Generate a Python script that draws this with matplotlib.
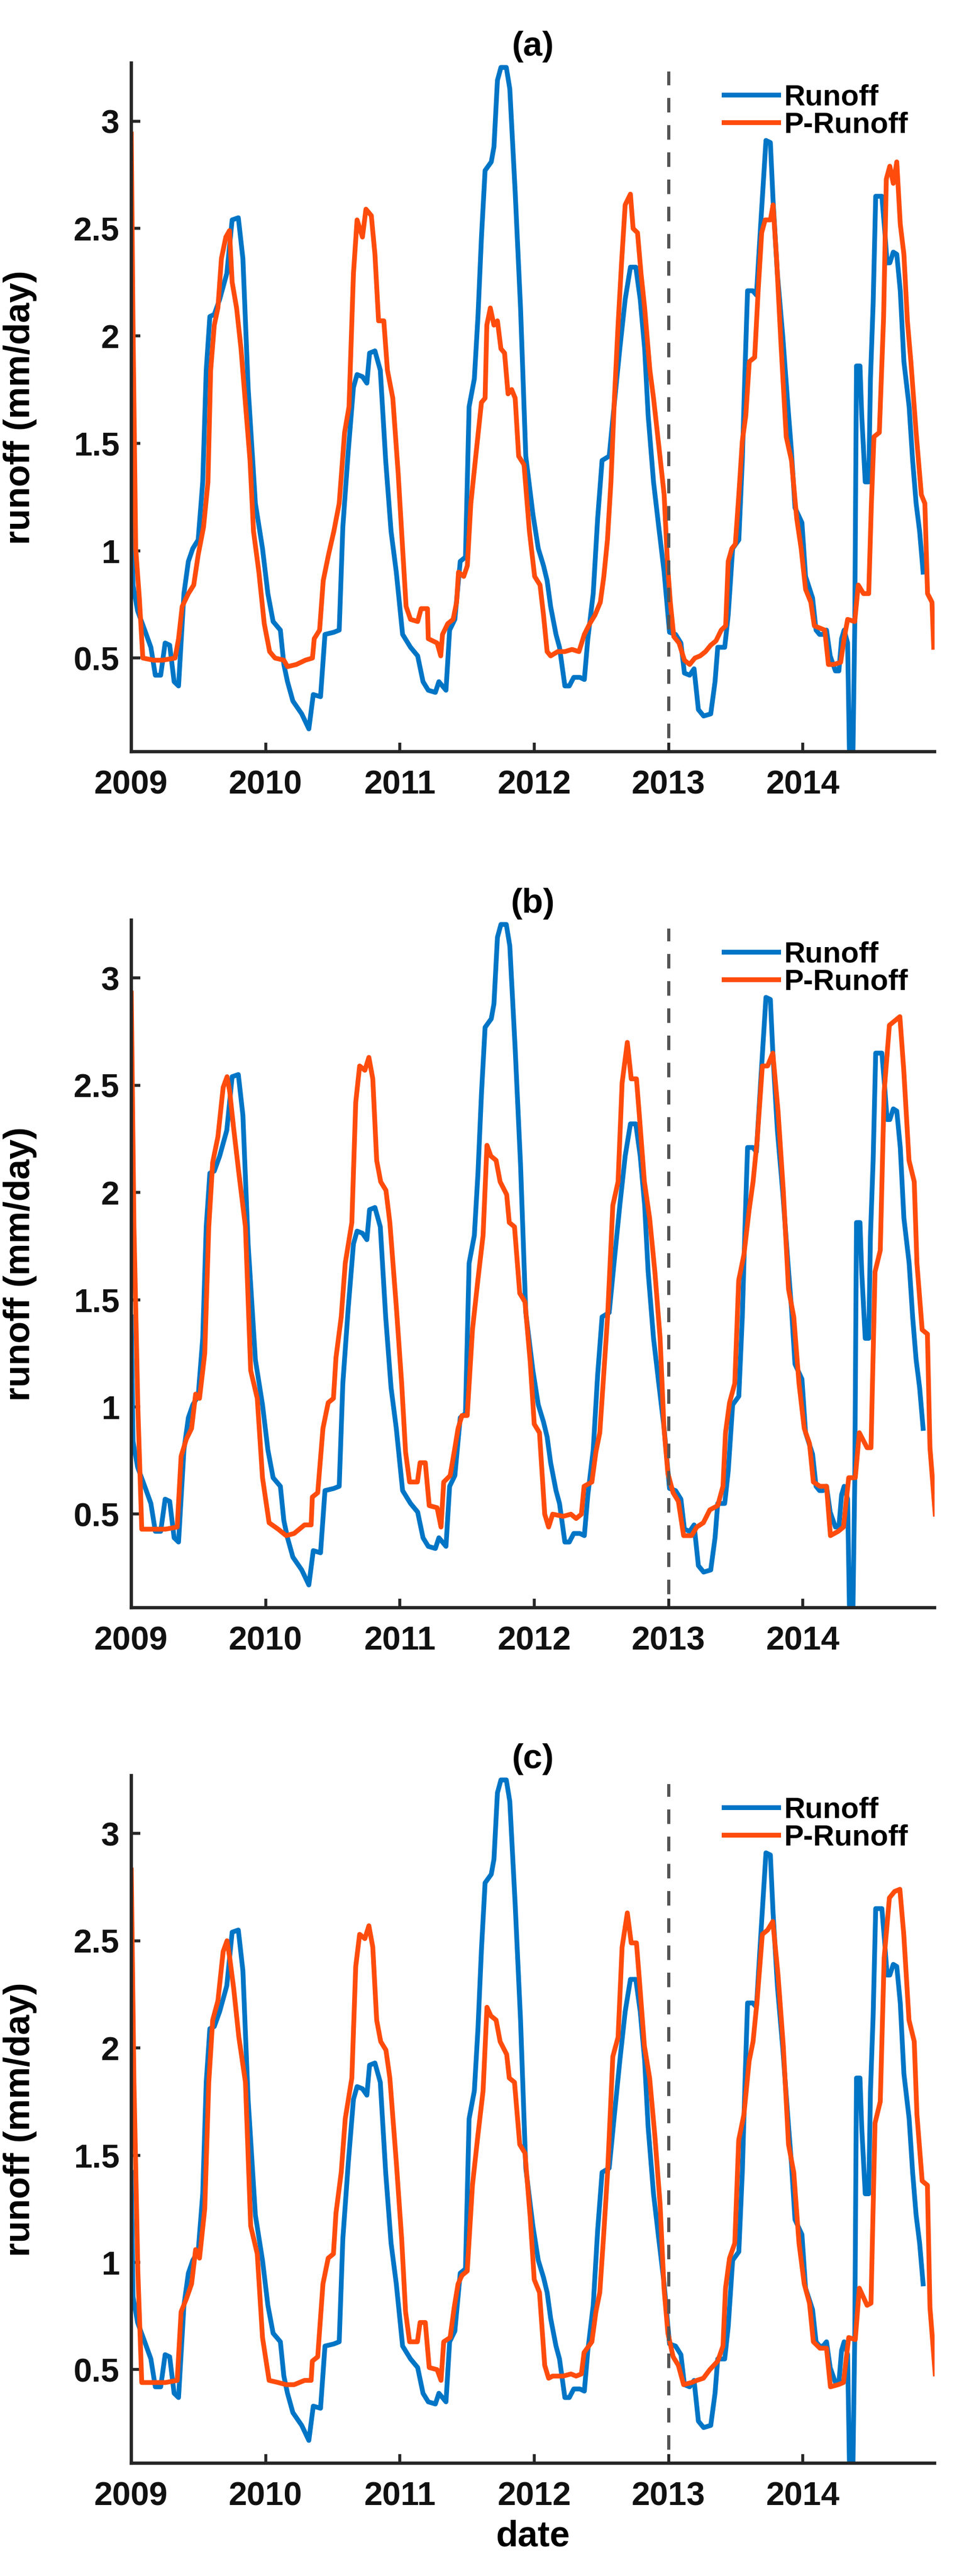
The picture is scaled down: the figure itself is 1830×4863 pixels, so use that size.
import numpy as np
import matplotlib
matplotlib.use("Agg")
import matplotlib.pyplot as plt

plt.rcParams['font.family'] = ['Liberation Sans', 'DejaVu Sans']
plt.rcParams['font.weight'] = 'bold'

# observed runoff (same curve in all three panels), decimal year / mm per day
runoff_t = [2009.000, 2009.013, 2009.047, 2009.100, 2009.146, 2009.179, 2009.219, 2009.252, 2009.286,
            2009.319, 2009.352, 2009.392, 2009.425, 2009.458, 2009.498, 2009.532, 2009.558, 2009.585,
            2009.618, 2009.658, 2009.711, 2009.751, 2009.797, 2009.831, 2009.870, 2009.924, 2009.977,
            2010.017, 2010.056, 2010.110, 2010.136, 2010.163, 2010.203, 2010.269, 2010.322, 2010.355,
            2010.409, 2010.442, 2010.508, 2010.548, 2010.575, 2010.615, 2010.654, 2010.681, 2010.721,
            2010.754, 2010.774, 2010.814, 2010.854, 2010.894, 2010.934, 2010.973, 2011.020, 2011.079,
            2011.132, 2011.172, 2011.211, 2011.264, 2011.290, 2011.343, 2011.370, 2011.409, 2011.449,
            2011.488, 2011.515, 2011.554, 2011.581, 2011.607, 2011.634, 2011.680, 2011.700, 2011.726,
            2011.752, 2011.792, 2011.818, 2011.858, 2011.898, 2011.937, 2011.990, 2012.030, 2012.069,
            2012.096, 2012.122, 2012.162, 2012.188, 2012.228, 2012.261, 2012.294, 2012.340, 2012.373,
            2012.399, 2012.439, 2012.472, 2012.505, 2012.558, 2012.597, 2012.637, 2012.677, 2012.716,
            2012.756, 2012.789, 2012.822, 2012.848, 2012.888, 2012.927, 2012.967, 2013.007, 2013.052,
            2013.092, 2013.118, 2013.157, 2013.190, 2013.222, 2013.261, 2013.314, 2013.346, 2013.366,
            2013.418, 2013.444, 2013.477, 2013.523, 2013.549, 2013.569, 2013.588, 2013.627, 2013.654,
            2013.686, 2013.725, 2013.758, 2013.778, 2013.810, 2013.850, 2013.889, 2013.915, 2013.941,
            2013.993, 2014.020, 2014.072, 2014.098, 2014.124, 2014.150, 2014.176, 2014.203, 2014.242,
            2014.268, 2014.288, 2014.307, 2014.333, 2014.346, 2014.373, 2014.386, 2014.399, 2014.425,
            2014.438, 2014.464, 2014.490, 2014.503, 2014.523, 2014.542, 2014.588, 2014.608, 2014.627,
            2014.647, 2014.673, 2014.699, 2014.725, 2014.752, 2014.791, 2014.817, 2014.843, 2014.869,
            2014.895]
runoff_v = [1.42, 0.84, 0.72, 0.63, 0.55, 0.42, 0.42, 0.57, 0.56,
            0.39, 0.37, 0.80, 0.95, 1.01, 1.05, 1.32, 1.84, 2.09,
            2.10, 2.17, 2.29, 2.54, 2.55, 2.36, 1.76, 1.22, 1.01,
            0.80, 0.67, 0.63, 0.47, 0.39, 0.30, 0.24, 0.17, 0.33,
            0.32, 0.61, 0.62, 0.63, 1.11, 1.46, 1.76, 1.82, 1.81,
            1.78, 1.92, 1.93, 1.84, 1.42, 1.09, 0.90, 0.61, 0.55,
            0.51, 0.39, 0.35, 0.34, 0.39, 0.35, 0.63, 0.68, 0.95,
            0.97, 1.67, 1.80, 2.09, 2.46, 2.77, 2.81, 2.88, 3.19,
            3.25, 3.25, 3.15, 2.67, 2.13, 1.44, 1.17, 1.01, 0.93,
            0.86, 0.74, 0.61, 0.55, 0.37, 0.37, 0.41, 0.41, 0.40,
            0.59, 0.80, 1.15, 1.42, 1.44, 1.69, 1.94, 2.17, 2.32,
            2.32, 2.17, 1.94, 1.63, 1.32, 1.11, 0.90, 0.62, 0.61,
            0.57, 0.43, 0.42, 0.45, 0.26, 0.23, 0.24, 0.39, 0.55,
            0.55, 0.70, 1.01, 1.05, 1.42, 1.84, 2.21, 2.21, 2.19,
            2.52, 2.91, 2.90, 2.63, 2.29, 2.00, 1.67, 1.46, 1.20,
            1.13, 0.88, 0.78, 0.63, 0.61, 0.61, 0.63, 0.51, 0.44,
            0.44, 0.59, 0.63, 0.57, 0.075, 0.07, 0.65, 1.86, 1.86,
            1.63, 1.32, 1.32, 1.80, 2.15, 2.65, 2.65, 2.50, 2.34,
            2.34, 2.39, 2.38, 2.21, 1.88, 1.67, 1.42, 1.22, 1.09,
            0.90]

# P-Runoff, panel (a)
pa_t = [2009.000, 2009.013, 2009.033, 2009.060, 2009.086, 2009.166, 2009.233, 2009.326, 2009.352,
        2009.379, 2009.425, 2009.465, 2009.498, 2009.538, 2009.571, 2009.591, 2009.618, 2009.645,
        2009.671, 2009.704, 2009.731, 2009.751, 2009.784, 2009.817, 2009.844, 2009.884, 2009.910,
        2009.950, 2009.990, 2010.030, 2010.070, 2010.136, 2010.163, 2010.229, 2010.296, 2010.349,
        2010.362, 2010.402, 2010.429, 2010.468, 2010.508, 2010.548, 2010.588, 2010.621, 2010.654,
        2010.681, 2010.721, 2010.747, 2010.787, 2010.814, 2010.841, 2010.880, 2010.907, 2010.947,
        2010.987, 2011.020, 2011.046, 2011.079, 2011.132, 2011.158, 2011.205, 2011.211, 2011.277,
        2011.304, 2011.317, 2011.356, 2011.396, 2011.422, 2011.436, 2011.475, 2011.502, 2011.528,
        2011.568, 2011.607, 2011.634, 2011.647, 2011.673, 2011.700, 2011.726, 2011.752, 2011.779,
        2011.805, 2011.832, 2011.858, 2011.884, 2011.924, 2011.964, 2012.003, 2012.043, 2012.069,
        2012.096, 2012.122, 2012.175, 2012.228, 2012.281, 2012.333, 2012.373, 2012.413, 2012.452,
        2012.492, 2012.518, 2012.545, 2012.571, 2012.597, 2012.624, 2012.650, 2012.677, 2012.716,
        2012.736, 2012.769, 2012.795, 2012.822, 2012.861, 2012.888, 2012.927, 2012.967, 2012.993,
        2013.013, 2013.039, 2013.078, 2013.118, 2013.157, 2013.196, 2013.235, 2013.275, 2013.314,
        2013.353, 2013.392, 2013.425, 2013.444, 2013.471, 2013.497, 2013.523, 2013.549, 2013.575,
        2013.601, 2013.641, 2013.667, 2013.693, 2013.719, 2013.758, 2013.778, 2013.804, 2013.837,
        2013.876, 2013.915, 2013.954, 2013.987, 2014.020, 2014.059, 2014.085, 2014.124, 2014.163,
        2014.190, 2014.229, 2014.281, 2014.307, 2014.333, 2014.386, 2014.412, 2014.451, 2014.490,
        2014.510, 2014.529, 2014.569, 2014.601, 2014.621, 2014.647, 2014.673, 2014.699, 2014.725,
        2014.752, 2014.778, 2014.804, 2014.843, 2014.882, 2014.908, 2014.928, 2014.961, 2014.974]
pa_v = [2.94, 2.05, 1.01, 0.78, 0.50, 0.49, 0.49, 0.50, 0.59,
        0.74, 0.80, 0.84, 0.98, 1.11, 1.32, 1.84, 2.05, 2.13,
        2.36, 2.46, 2.49, 2.25, 2.13, 1.94, 1.73, 1.42, 1.09,
        0.90, 0.66, 0.53, 0.50, 0.49, 0.46, 0.47, 0.49, 0.50,
        0.59, 0.63, 0.86, 0.98, 1.09, 1.22, 1.55, 1.67, 2.29,
        2.54, 2.46, 2.59, 2.56, 2.38, 2.07, 2.07, 1.84, 1.71,
        1.36, 1.01, 0.74, 0.68, 0.67, 0.73, 0.73, 0.59, 0.57,
        0.51, 0.61, 0.66, 0.68, 0.76, 0.90, 0.88, 0.93, 1.22,
        1.46, 1.69, 1.71, 2.05, 2.13, 2.05, 2.07, 1.94, 1.92,
        1.73, 1.75, 1.71, 1.44, 1.40, 1.09, 0.88, 0.84, 0.70,
        0.53, 0.51, 0.53, 0.53, 0.54, 0.53, 0.61, 0.66, 0.70,
        0.76, 0.88, 1.05, 1.32, 1.71, 2.05, 2.34, 2.61, 2.66,
        2.50, 2.48, 2.29, 2.13, 1.84, 1.71, 1.49, 1.26, 0.93,
        0.76, 0.60, 0.57, 0.49, 0.47, 0.50, 0.51, 0.53, 0.56,
        0.58, 0.63, 0.65, 0.95, 1.01, 1.03, 1.26, 1.51, 1.63,
        1.88, 1.90, 2.21, 2.48, 2.54, 2.54, 2.61, 2.36, 1.96,
        1.53, 1.42, 1.15, 1.01, 0.82, 0.76, 0.65, 0.64, 0.63,
        0.47, 0.47, 0.48, 0.59, 0.68, 0.67, 0.84, 0.80, 0.80,
        1.22, 1.53, 1.55, 2.09, 2.73, 2.79, 2.71, 2.81, 2.52,
        2.38, 2.07, 1.88, 1.55, 1.26, 1.22, 0.80, 0.76, 0.55]

# P-Runoff, panels (b) and (c) share the time steps
pbc_t = [2009.000, 2009.020, 2009.049, 2009.078, 2009.156, 2009.254, 2009.342, 2009.371, 2009.410,
         2009.449, 2009.479, 2009.508, 2009.547, 2009.577, 2009.606, 2009.645, 2009.684, 2009.713,
         2009.733, 2009.762, 2009.801, 2009.850, 2009.889, 2009.938, 2009.977, 2010.026, 2010.094,
         2010.153, 2010.212, 2010.290, 2010.339, 2010.348, 2010.388, 2010.427, 2010.466, 2010.505,
         2010.524, 2010.563, 2010.593, 2010.642, 2010.671, 2010.700, 2010.739, 2010.769, 2010.798,
         2010.827, 2010.857, 2010.896, 2010.925, 2010.974, 2011.013, 2011.042, 2011.072, 2011.130,
         2011.150, 2011.189, 2011.218, 2011.277, 2011.306, 2011.326, 2011.374, 2011.404, 2011.433,
         2011.462, 2011.501, 2011.540, 2011.580, 2011.619, 2011.648, 2011.677, 2011.716, 2011.746,
         2011.795, 2011.814, 2011.853, 2011.892, 2011.931, 2011.970, 2012.000, 2012.039, 2012.078,
         2012.107, 2012.137, 2012.215, 2012.273, 2012.312, 2012.351, 2012.371, 2012.429, 2012.459,
         2012.488, 2012.517, 2012.546, 2012.585, 2012.624, 2012.654, 2012.693, 2012.722, 2012.761,
         2012.780, 2012.820, 2012.859, 2012.898, 2012.937, 2012.966, 2012.995, 2013.034, 2013.073,
         2013.112, 2013.171, 2013.210, 2013.259, 2013.307, 2013.366, 2013.405, 2013.424, 2013.454,
         2013.493, 2013.522, 2013.561, 2013.600, 2013.629, 2013.659, 2013.698, 2013.737, 2013.776,
         2013.815, 2013.854, 2013.893, 2013.932, 2013.971, 2014.010, 2014.049, 2014.078, 2014.127,
         2014.176, 2014.205, 2014.263, 2014.302, 2014.341, 2014.390, 2014.420, 2014.478, 2014.507,
         2014.537, 2014.576, 2014.605, 2014.644, 2014.683, 2014.722, 2014.751, 2014.790, 2014.829,
         2014.849, 2014.888, 2014.927, 2014.946, 2014.985]
pb_v = [2.93, 1.84, 1.00, 0.43, 0.43, 0.43, 0.44, 0.77, 0.85,
        0.90, 1.06, 1.04, 1.25, 1.84, 2.14, 2.26, 2.49, 2.54,
        2.47, 2.30, 2.09, 1.84, 1.17, 1.04, 0.67, 0.46, 0.43,
        0.40, 0.41, 0.45, 0.45, 0.58, 0.60, 0.90, 1.02, 1.04,
        1.23, 1.42, 1.67, 1.86, 2.42, 2.59, 2.57, 2.63, 2.53,
        2.15, 2.05, 2.01, 1.86, 1.46, 1.11, 0.79, 0.65, 0.65,
        0.74, 0.74, 0.54, 0.53, 0.44, 0.65, 0.68, 0.79, 0.90,
        0.96, 0.96, 1.36, 1.59, 1.80, 2.22, 2.17, 2.15, 2.05,
        1.99, 1.86, 1.84, 1.53, 1.49, 1.21, 0.92, 0.88, 0.50,
        0.44, 0.50, 0.49, 0.50, 0.48, 0.50, 0.63, 0.65, 0.79,
        0.88, 1.15, 1.42, 1.94, 2.05, 2.51, 2.70, 2.53, 2.53,
        2.38, 2.05, 1.88, 1.63, 1.32, 0.90, 0.69, 0.60, 0.56,
        0.40, 0.40, 0.44, 0.46, 0.52, 0.54, 0.63, 0.88, 1.02,
        1.11, 1.59, 1.71, 1.92, 2.05, 2.24, 2.59, 2.59, 2.65,
        2.38, 2.01, 1.55, 1.42, 1.11, 0.90, 0.83, 0.65, 0.63,
        0.63, 0.40, 0.42, 0.44, 0.67, 0.67, 0.88, 0.81, 0.81,
        1.63, 1.73, 2.47, 2.78, 2.80, 2.82, 2.57, 2.15, 2.05,
        1.67, 1.36, 1.34, 0.81, 0.50]
pc_v = [2.83, 1.84, 0.96, 0.44, 0.44, 0.44, 0.45, 0.77, 0.83,
        0.90, 1.06, 1.02, 1.25, 1.84, 2.13, 2.22, 2.45, 2.50,
        2.42, 2.28, 2.05, 1.84, 1.17, 1.04, 0.65, 0.45, 0.44,
        0.43, 0.43, 0.45, 0.45, 0.54, 0.56, 0.90, 1.02, 1.04,
        1.23, 1.42, 1.67, 1.86, 2.38, 2.53, 2.51, 2.57, 2.47,
        2.13, 2.03, 1.99, 1.86, 1.46, 1.11, 0.77, 0.63, 0.63,
        0.72, 0.72, 0.51, 0.50, 0.45, 0.63, 0.65, 0.79, 0.90,
        0.94, 0.96, 1.36, 1.59, 1.80, 2.19, 2.15, 2.13, 2.03,
        1.97, 1.86, 1.84, 1.55, 1.51, 1.21, 0.92, 0.86, 0.52,
        0.46, 0.47, 0.47, 0.48, 0.47, 0.48, 0.58, 0.63, 0.77,
        0.86, 1.13, 1.42, 1.96, 2.05, 2.47, 2.63, 2.49, 2.49,
        2.34, 2.01, 1.86, 1.59, 1.27, 0.88, 0.67, 0.56, 0.52,
        0.43, 0.44, 0.45, 0.46, 0.50, 0.54, 0.61, 0.88, 1.02,
        1.09, 1.57, 1.69, 1.94, 2.03, 2.22, 2.53, 2.55, 2.59,
        2.34, 2.01, 1.55, 1.42, 1.09, 0.90, 0.81, 0.63, 0.60,
        0.60, 0.42, 0.43, 0.44, 0.65, 0.64, 0.88, 0.80, 0.81,
        1.65, 1.75, 2.42, 2.70, 2.73, 2.74, 2.53, 2.13, 2.03,
        1.69, 1.38, 1.36, 0.79, 0.48]

panel_titles = ["(a)", "(b)", "(c)"]
prunoff = [(pa_t, pa_v), (pbc_t, pb_v), (pbc_t, pc_v)]
year_ticks = [2009, 2010, 2011, 2012, 2013, 2014]
y_ticks = [0.5, 1, 1.5, 2, 2.5, 3]
y_ticklabels = ["0.5", "1", "1.5", "2", "2.5", "3"]
split_year = 2013      # calibration / validation split
split_top = 3.23

blue = '#0075C6'
orange = '#FF4C0C'
axis_col = '#262626'

fig = plt.figure(figsize=(18.31, 48.63), dpi=100)
boxes = [[0.1354, 0.7082, 0.8285, 0.2673],
         [0.1354, 0.3759, 0.8285, 0.2669],
         [0.1354, 0.0438, 0.8285, 0.2669]]

for i in range(3):
    ax = fig.add_axes(boxes[i])
    l1, = ax.plot(runoff_t, runoff_v, color=blue, lw=6.5, label='Runoff')
    l2, = ax.plot(prunoff[i][0], prunoff[i][1], color=orange, lw=6.5, label='P-Runoff')
    ax.vlines(split_year, 0, split_top, colors='#555555', lw=4.3, linestyles=(0, (4.6, 4.0)))

    ax.set_xlim(2009, 2014.98)
    ax.set_ylim(0.064, 3.27)
    ax.set_xticks(year_ticks)
    ax.set_xticklabels([str(y) for y in year_ticks])
    ax.set_yticks(y_ticks)
    ax.set_yticklabels(y_ticklabels)

    for s in ['top', 'right']:
        ax.spines[s].set_visible(False)
    for s in ['left', 'bottom']:
        ax.spines[s].set_color(axis_col)
        ax.spines[s].set_linewidth(4.5)
    ax.tick_params(direction='in', length=12, width=4, color=axis_col, labelsize=45, labelcolor='#111111')
    ax.tick_params(axis='x', pad=24)
    ax.tick_params(axis='y', pad=16)

    ax.set_title(panel_titles[i], fontsize=47, fontweight='bold', pad=10)
    ax.set_ylabel('runoff (mm/day)', fontsize=49, fontweight='bold')
    ax.yaxis.set_label_coords(-0.117, 0.5)
    if i == 2:
        ax.set_xlabel('date', fontsize=49, fontweight='bold', labelpad=10)

    ax.legend(handles=[l1, l2], loc='center left', bbox_to_anchor=(0.7377, 0.9296),
              frameon=False, fontsize=40, borderpad=0, borderaxespad=0,
              handlelength=1.85, handletextpad=0.18, labelspacing=0.0)

plt.savefig('out.png', dpi=100)
